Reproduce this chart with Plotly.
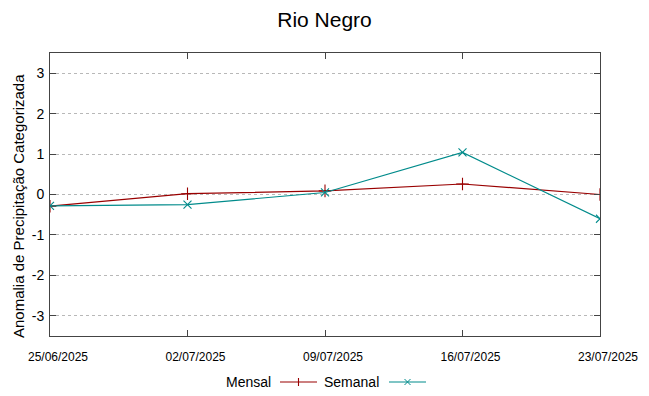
import plotly.graph_objects as go

dates = ["2025-06-25", "2025-07-02", "2025-07-09", "2025-07-16", "2025-07-23"]
mensal = [-0.29, 0.02, 0.09, 0.26, 0.0]
semanal = [-0.28, -0.25, 0.05, 1.04, -0.60]
tick_labels = ["25/06/2025", "02/07/2025", "09/07/2025", "16/07/2025", "23/07/2025"]
y_ticks = [-3, -2, -1, 0, 1, 2, 3]
y_tick_labels = ["-3", "-2", "-1", "0", "1", "2", "3"]

RED = "#990000"
TEAL = "#008b8b"
FONT = "Liberation Sans, Arial, sans-serif"

# page has an 8px body margin; figure coordinates are page coordinates minus 8
OFF = 8
W, H = 649 - OFF, 396 - OFF
L, T = 50 - OFF, 53 - OFF
R = W - (600 - OFF)
B = H - (336 - OFF)
PW, PH = W - L - R, H - T - B

fig = go.Figure()
fig.add_trace(go.Scatter(x=dates, y=mensal, mode="lines+markers", name="Mensal",
                         line=dict(color=RED, width=1.2),
                         marker=dict(symbol="cross-thin-open", size=9, color=RED,
                                     line=dict(color=RED, width=1.1))))
fig.add_trace(go.Scatter(x=dates, y=semanal, mode="lines+markers", name="Semanal",
                         line=dict(color=TEAL, width=1.2),
                         marker=dict(symbol="x-thin-open", size=8, color=TEAL,
                                     line=dict(color=TEAL, width=1.1))))

def px(x):
    return (x - OFF - L) / PW

def py(y):
    return (H - B - (y - OFF)) / PH

shapes = []
ann = []
leg_y = 382
ann.append(dict(x=px(273), y=py(leg_y), xref="paper", yref="paper", text="Mensal",
                showarrow=False, xanchor="right", yanchor="middle",
                font=dict(family=FONT, size=14, color="#000")))
shapes.append(dict(type="line", xref="paper", yref="paper", x0=px(280), x1=px(317),
                   y0=py(leg_y), y1=py(leg_y), line=dict(color=RED, width=1.2)))
shapes.append(dict(type="line", xref="paper", yref="paper", x0=px(298.5), x1=px(298.5),
                   y0=py(leg_y - 4), y1=py(leg_y + 4), line=dict(color=RED, width=1.1)))
ann.append(dict(x=px(381), y=py(leg_y), xref="paper", yref="paper", text="Semanal",
                showarrow=False, xanchor="right", yanchor="middle",
                font=dict(family=FONT, size=14, color="#000")))
shapes.append(dict(type="line", xref="paper", yref="paper", x0=px(389), x1=px(426),
                   y0=py(leg_y), y1=py(leg_y), line=dict(color=TEAL, width=1.2)))
shapes.append(dict(type="line", xref="paper", yref="paper", x0=px(404.5), x1=px(410.5),
                   y0=py(leg_y - 3), y1=py(leg_y + 3), line=dict(color=TEAL, width=1.0)))
shapes.append(dict(type="line", xref="paper", yref="paper", x0=px(404.5), x1=px(410.5),
                   y0=py(leg_y + 3), y1=py(leg_y - 3), line=dict(color=TEAL, width=1.0)))
# y-axis title
ann.append(dict(x=px(18), y=py(206), xref="paper", yref="paper",
                text="Anomalia de Precipitação Categorizada", textangle=-90,
                showarrow=False, xanchor="center", yanchor="middle",
                font=dict(family=FONT, size=15, color="#000")))

fig.update_layout(
    width=W, height=H,
    margin=dict(l=L, r=R, t=T, b=B, autoexpand=False),
    paper_bgcolor="white", plot_bgcolor="white",
    showlegend=False,
    title=dict(text="Rio Negro", xref="container", x=(324.5 - OFF) / W, xanchor="center",
               y=1 - (20 - OFF) / H, yanchor="middle",
               font=dict(family=FONT, size=21, color="#000")),
    font=dict(family=FONT, color="#000"),
    shapes=shapes,
    annotations=ann,
    xaxis=dict(type="date", range=[dates[0], dates[-1]], tickvals=dates, ticktext=tick_labels,
               automargin=False,
               showgrid=False, zeroline=False, showline=True, linecolor="#444", linewidth=1,
               mirror="ticks", ticks="inside", ticklen=6, tickcolor="#444",
               tickfont=dict(family=FONT, size=12, color="#000"),
               ticklabelstandoff=10, ticklabelshift=8),
    yaxis=dict(range=[-3.5, 3.5], tickvals=y_ticks, ticktext=y_tick_labels, automargin=False,
               showgrid=True, gridcolor="#b8b8b8",
               griddash="dot", gridwidth=1, zeroline=False, showline=True, linecolor="#444",
               linewidth=1, mirror="ticks", ticks="inside", ticklen=6, tickcolor="#444",
               tickfont=dict(family=FONT, size=14, color="#000"), ticklabelstandoff=2),
)

fig.write_html("out.html")
